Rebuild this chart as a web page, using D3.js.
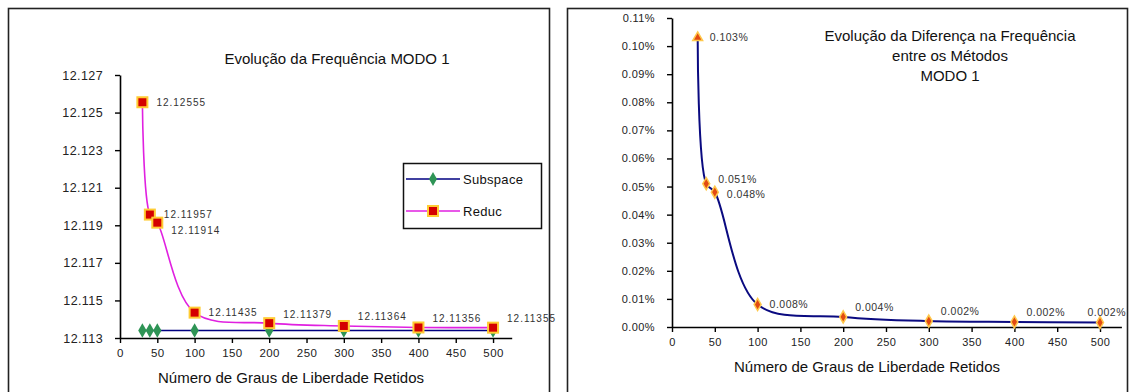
<!DOCTYPE html>
<html>
<head>
<meta charset="utf-8">
<script src="https://cdn.jsdelivr.net/npm/d3@7"></script>
<style>
  body { margin: 0; background: #fff; }
  svg text { font-family: "Liberation Sans", Arial, sans-serif; fill: #111; }
</style>
</head>
<body>
<svg id="chart" width="1133" height="392"></svg>
<script>
// graus de liberdade retidos
var graus = [30, 40, 50, 100, 200, 300, 400, 500];
// frequencia MODO 1
var subspace = [12.1134, 12.1134, 12.1134, 12.1134, 12.1134, 12.1134, 12.1134, 12.1134];
var reduc = [12.12555, 12.11957, 12.11914, 12.11435, 12.11379, 12.11364, 12.11356, 12.11355];
// diferenca entre os metodos, em %
var diferenca = [0.103, 0.051, 0.048, 0.008, 0.0036, 0.0021, 0.0018, 0.0016];

var xTicks = [0, 50, 100, 150, 200, 250, 300, 350, 400, 450, 500];
var yTicksFreq = [12.113, 12.115, 12.117, 12.119, 12.121, 12.123, 12.125, 12.127];
var yTicksDif = [0, 0.01, 0.02, 0.03, 0.04, 0.05, 0.06, 0.07, 0.08, 0.09, 0.10, 0.11];

var svg = d3.select('#chart');

function styleAxis(g, size) {
  g.select('.domain').style('stroke', '#000').style('stroke-width', 1.6);
  g.selectAll('.tick line').style('stroke', '#000').style('stroke-width', 1.4);
  g.selectAll('.tick text')
    .style('font-size', size + 'px')
    .style('letter-spacing', '0.4px')
    .style('fill', '#222');
}

/* LEFT CHART */

svg.append('rect')
  .attr('x', 8.5).attr('y', 8.5)
  .attr('width', 541).attr('height', 400)
  .style('fill', 'none').style('stroke', '#222').style('stroke-width', 1.6);

var xL = d3.scaleLinear().domain([0, 525]).range([120, 511.7]);
var yL = d3.scaleLinear().domain([12.113, 12.127]).range([338, 75]);

svg.append('text')
  .attr('x', 337).attr('y', 59).attr('dy', '0.35em')
  .attr('text-anchor', 'middle')
  .style('font-size', '15px')
  .text('Evolução da Frequência MODO 1');

var axL = svg.append('g')
  .attr('transform', 'translate(0,338)')
  .call(d3.axisBottom(xL).tickValues(xTicks).tickSize(5).tickSizeOuter(0).tickPadding(6));
styleAxis(axL, 11.5);

var ayL = svg.append('g')
  .attr('transform', 'translate(120,0)')
  .call(d3.axisLeft(yL).tickValues(yTicksFreq).tickFormat(d3.format('.3f')).tickSize(5).tickSizeOuter(0).tickPadding(12));
styleAxis(ayL, 12.5);

svg.append('text')
  .attr('x', 291).attr('y', 378).attr('dy', '0.35em')
  .attr('text-anchor', 'middle')
  .style('font-size', '15px')
  .text('Número de Graus de Liberdade Retidos');

var subData = graus.map((g, i) => ({x: g, y: subspace[i]}));
var redData = graus.map((g, i) => ({x: g, y: reduc[i]}));

var lineL = d3.line().x(d => xL(d.x)).y(d => yL(d.y));

svg.append('path')
  .datum(subData)
  .attr('d', lineL)
  .style('fill', 'none').style('stroke', '#000080').style('stroke-width', 1.6);

svg.append('path')
  .datum(redData)
  .attr('d', lineL.curve(d3.curveCatmullRom.alpha(0.5)))
  .style('fill', 'none').style('stroke', '#e020e0').style('stroke-width', 1.6);

svg.selectAll('path.sub-pt')
  .data(subData)
  .enter()
  .append('path')
  .classed('sub-pt', true)
  .attr('transform', d => 'translate(' + xL(d.x) + ',' + yL(d.y) + ')')
  .attr('d', d3.symbol().type(d3.symbolDiamond).size(60))
  .style('fill', '#2e9455');

svg.selectAll('rect.red-pt')
  .data(redData)
  .enter()
  .append('rect')
  .classed('red-pt', true)
  .attr('x', d => xL(d.x) - 5)
  .attr('y', d => yL(d.y) - 5)
  .attr('width', 10).attr('height', 10)
  .style('fill', '#d40000')
  .style('stroke', '#ffcc33').style('stroke-width', 2);

svg.selectAll('text.red-lbl')
  .data(redData)
  .enter()
  .append('text')
  .classed('red-lbl', true)
  .attr('x', d => xL(d.x) + 14)
  .attr('y', d => yL(d.y) + (d.x >= 200 ? -9 : d.x == 50 ? 8 : 0))
  .attr('dy', '0.35em')
  .style('font-size', '10px')
  .style('letter-spacing', '1px')
  .style('fill', '#333')
  .text(d => d3.format('.5f')(d.y));

// legend
var leg = svg.append('g').attr('transform', 'translate(403,163)');
leg.append('rect')
  .attr('x', 0.5).attr('y', 0.5).attr('width', 138).attr('height', 65)
  .style('fill', '#fff').style('stroke', '#111').style('stroke-width', 1.5);

var legItems = [
  {name: 'Subspace', color: '#000080', y: 16},
  {name: 'Reduc', color: '#e020e0', y: 48}
];
legItems.forEach(function(it, i) {
  leg.append('line')
    .attr('x1', 3).attr('x2', 57).attr('y1', it.y).attr('y2', it.y)
    .style('stroke', it.color).style('stroke-width', 1.6);
  if (i == 0) {
    leg.append('path')
      .attr('transform', 'translate(30,' + it.y + ')')
      .attr('d', d3.symbol().type(d3.symbolDiamond).size(55))
      .style('fill', '#2e9455');
  } else {
    leg.append('rect')
      .attr('x', 25).attr('y', it.y - 5).attr('width', 10).attr('height', 10)
      .style('fill', '#d40000').style('stroke', '#ffcc33').style('stroke-width', 2);
  }
  leg.append('text')
    .attr('x', 60).attr('y', it.y).attr('dy', '0.35em')
    .style('font-size', '13px')
    .style('letter-spacing', '0.3px')
    .text(it.name);
});

/* RIGHT CHART */

svg.append('rect')
  .attr('x', 567.5).attr('y', 8.5)
  .attr('width', 560).attr('height', 400)
  .style('fill', 'none').style('stroke', '#222').style('stroke-width', 1.6);

var xR = d3.scaleLinear().domain([0, 525]).range([672, 1121.4]);
var yR = d3.scaleLinear().domain([0, 0.11]).range([327, 18]);

var titleR = svg.append('text')
  .attr('x', 950).attr('y', 36)
  .attr('text-anchor', 'middle')
  .style('font-size', '15px');
['Evolução da Diferença na Frequência', 'entre os Métodos', 'MODO 1'].forEach(function(t, i) {
  titleR.append('tspan')
    .attr('x', 950).attr('y', 36 + i * 20).attr('dy', '0.35em')
    .text(t);
});

var axR = svg.append('g')
  .attr('transform', 'translate(0,327)')
  .call(d3.axisBottom(xR).tickValues(xTicks).tickSize(5).tickSizeOuter(0).tickPadding(6));
styleAxis(axR, 11);

var ayR = svg.append('g')
  .attr('transform', 'translate(672,0)')
  .call(d3.axisLeft(yR).tickValues(yTicksDif).tickFormat(d => d.toFixed(2) + '%').tickSize(5).tickSizeOuter(0).tickPadding(12));
styleAxis(ayR, 11);

svg.append('text')
  .attr('x', 867).attr('y', 367).attr('dy', '0.35em')
  .attr('text-anchor', 'middle')
  .style('font-size', '15px')
  .text('Número de Graus de Liberdade Retidos');

var difData = graus.map((g, i) => ({x: g, y: diferenca[i]}));

svg.append('path')
  .datum(difData)
  .attr('d', d3.line().x(d => xR(d.x)).y(d => yR(d.y)).curve(d3.curveCatmullRom.alpha(0.5)))
  .style('fill', 'none').style('stroke', '#0a0a80').style('stroke-width', 2);

svg.selectAll('path.dif-pt')
  .data(difData)
  .enter()
  .append('path')
  .classed('dif-pt', true)
  .attr('transform', d => 'translate(' + xR(d.x) + ',' + yR(d.y) + ')')
  .attr('d', (d, i) => d3.symbol().type(i == 0 ? d3.symbolTriangle : d3.symbolDiamond).size(42)())
  .style('fill', '#e24a12')
  .style('stroke', '#ffc84a').style('stroke-width', 1.5);

var last = difData.length - 1;
svg.selectAll('text.dif-lbl')
  .data(difData)
  .enter()
  .append('text')
  .classed('dif-lbl', true)
  .attr('x', (d, i) => i == last ? xR(d.x) + 26 : xR(d.x) + 12)
  .attr('y', (d, i) => yR(d.y) + (d.x >= 200 ? -10 : i == 1 ? -4 : i == 2 ? 2 : 0))
  .attr('dy', '0.35em')
  .attr('text-anchor', (d, i) => i == last ? 'end' : 'start')
  .style('font-size', '10.5px')
  .style('letter-spacing', '0.5px')
  .style('fill', '#333')
  .text(d => d.y.toFixed(3) + '%');
</script>
</body>
</html>
